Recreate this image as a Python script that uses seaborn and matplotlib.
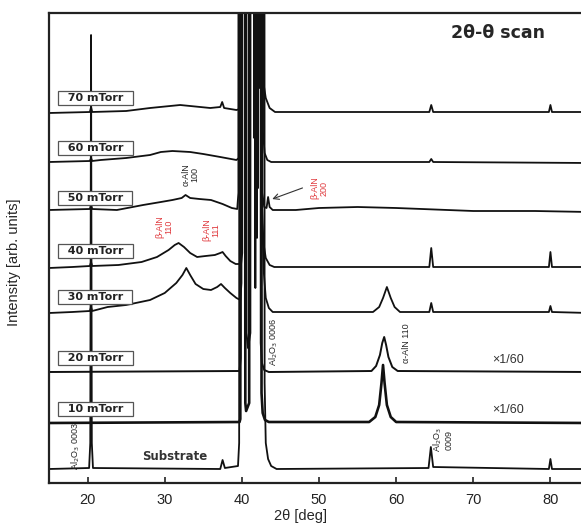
import matplotlib
matplotlib.use("Agg")
import matplotlib.pyplot as plt
import seaborn as sns

sns.set_style("white")
plt.rcParams["font.family"] = ["Liberation Sans", "DejaVu Sans"]

# 2theta positions (deg) and intensities (arb. units, already offset)
sub_x = [15, 20.2, 20.35, 20.45, 20.55, 20.7, 37.2, 37.5, 37.8, 39.5, 39.65, 39.7,
         42.9, 42.95, 43.1, 43.4, 43.8, 44.5, 64.2, 64.5, 64.8, 79.8, 80.0, 80.2, 85]
sub_y = [14, 15, 40, 448, 40, 15, 14, 23, 15, 17, 40, 1500,
         1500, 100, 40, 24, 17, 14, 15, 36, 16, 14, 24, 14, 14]

t10_x = [15, 39.7, 39.8, 39.85, 40.4, 40.45, 40.55, 40.95, 41.0, 42.5, 42.55, 42.7,
         43.0, 43.5, 56.5, 57.3, 57.8, 58.1, 58.3, 58.5, 58.8, 59.3, 60.0, 85]
t10_y = [60, 61, 64, 1500, 1500, 80, 72, 80, 1500, 1500, 90, 70,
         63, 61, 61, 66, 78, 100, 118, 100, 78, 66, 61, 60]

t20_x = [15, 39.7, 39.85, 39.9, 40.55, 40.6, 40.8, 41.1, 41.15, 42.4, 42.45, 42.6,
         42.9, 43.5, 56.8, 57.4, 57.9, 58.2, 58.45, 58.7, 59.0, 59.5, 60.2, 85]
t20_y = [111, 112, 125, 1500, 1500, 150, 135, 150, 1500, 1500, 140, 120,
         113, 111, 112, 117, 128, 140, 146, 138, 126, 116, 112, 111]

t30_x = [15, 18, 20.3, 20.45, 20.6, 22.6, 25, 28.1, 30, 31.5, 32.3, 32.8, 33.3, 34,
         35, 36, 36.8, 37.3, 37.8, 38.5, 39.3, 39.8, 39.95, 40.0, 41.73, 41.75, 41.77,
         42.6, 42.65, 42.85, 43.1, 43.5, 44, 57, 57.8, 58.3, 58.8, 59.3, 59.8, 60.5,
         64.3, 64.55, 64.8, 79.8, 80.0, 80.2, 85]
t30_y = [170, 171, 172, 176, 172, 176, 178, 183, 190, 200, 208, 215, 208, 199,
         194, 193, 196, 199, 195, 190, 185, 183, 200, 1500, 1500, 195, 1500,
         1500, 260, 210, 185, 175, 171, 171, 176, 185, 196, 185, 176, 171,
         171, 180, 171, 171, 177, 171, 170]

t40_x = [15, 18, 20.3, 20.45, 20.6, 24, 27, 29, 30.5, 31.3, 31.8, 32.5, 33.3, 34.2,
         35.3, 36.5, 37.2, 37.5, 37.9, 38.5, 39.2, 39.9, 40.05, 40.1, 41.93, 41.95,
         41.97, 42.55, 42.6, 42.8, 43.1, 43.6, 44.2, 64.3, 64.55, 64.8, 79.8, 80.0,
         80.2, 85]
t40_y = [215, 216, 217, 221, 217, 218, 221, 226, 233, 238, 240, 236, 230, 226,
         227, 228, 230, 231, 227, 222, 219, 219, 230, 1500, 1500, 245,
         1500, 1500, 280, 240, 225, 218, 216, 216, 235, 216, 216, 231,
         216, 216]

t50_x = [15, 20.3, 20.45, 20.6, 23.8, 27.2, 29.5, 31, 32.2, 32.7, 33.3, 34.5, 36,
         37.5, 38.7, 39.4, 39.55, 39.6, 42.08, 42.1, 42.12, 42.6, 42.65, 42.9, 43.2,
         43.4, 43.6, 44, 47, 50, 55, 60, 70, 78, 85]
t50_y = [273, 274, 278, 274, 273, 278, 281, 283, 285, 288, 285, 284, 283,
         279, 275, 274, 290, 1500, 1500, 295, 1500, 1500, 290, 276, 275,
         286, 276, 273, 273, 275, 276, 275, 272, 272, 271]

t60_x = [15, 20.3, 20.45, 20.6, 21.7, 25, 28.1, 29.5, 31, 33.3, 35, 37.2, 39.3,
         39.6, 39.7, 41.58, 41.6, 41.62, 42.7, 42.75, 42.95, 43.3, 43.8, 64.3, 64.55,
         64.8, 85]
t60_y = [321, 322, 325, 322, 323, 325, 328, 331, 332, 331, 329, 326, 323,
         325, 1500, 1500, 345, 1500, 1500, 350, 330, 323, 321, 321, 324,
         321, 320]

t70_x = [15, 20.3, 20.45, 20.6, 25, 28.1, 32, 35.9, 37.2, 37.45, 37.7, 39.3, 39.7,
         39.8, 42.28, 42.3, 42.32, 42.75, 42.8, 43.1, 43.6, 44.3, 64.3, 64.55, 64.8,
         79.8, 80.0, 80.2, 85]
t70_y = [370, 371, 376, 371, 372, 375, 378, 375, 376, 381, 375, 373, 374,
         1500, 1500, 395, 1500, 1500, 400, 385, 375, 371, 371, 378, 371,
         371, 378, 371, 371]

traces = [(sub_x, sub_y, 1.3), (t10_x, t10_y, 1.9), (t20_x, t20_y, 1.4),
          (t30_x, t30_y, 1.3), (t40_x, t40_y, 1.3), (t50_x, t50_y, 1.3),
          (t60_x, t60_y, 1.3), (t70_x, t70_y, 1.3)]

labels = ["70 mTorr", "60 mTorr", "50 mTorr", "40 mTorr",
          "30 mTorr", "20 mTorr", "10 mTorr"]
label_y = [385, 335, 285, 232, 186, 125, 74]

fig = plt.figure(figsize=(5.81, 5.29), dpi=100)
ax = fig.add_axes([49 / 581, 46 / 529, 540 / 581, 470 / 529])

for xs, ys, lw in traces:
    sns.lineplot(x=xs, y=ys, ax=ax, color="#111111", lw=lw, sort=False,
                 estimator=None)

ax.set_xlim(15, 85)
ax.set_ylim(0, 470)
ax.set_xticks([20, 30, 40, 50, 60, 70, 80])
ax.set_yticks([])
ax.tick_params(axis="x", direction="in", length=4, width=1.2, pad=7,
               labelsize=10.5, colors="#222222", bottom=True)
for s in ax.spines.values():
    s.set_linewidth(1.6)
    s.set_color("#222222")

ax.set_xlabel("2θ [deg]", fontsize=10.5)
ax.xaxis.set_label_coords(0.465, -0.055)
ax.set_ylabel("Intensity [arb. units]", fontsize=10.5)
ax.yaxis.set_label_coords(-0.052, 0.47)

for lab, yy in zip(labels, label_y):
    ax.text(16.4, yy, "  " + lab + "  ", fontsize=8, fontweight="bold", ha="left",
            va="center", family=["DejaVu Sans"], color="#222222",
            bbox=dict(boxstyle="square,pad=0.15", fc="white", ec="#555555", lw=0.9))

ax.text(73.2, 450, "2θ-θ scan", fontsize=12.5, fontweight="bold", ha="center",
        va="center", family=["DejaVu Sans"])
ax.text(31.3, 27, "Substrate", fontsize=8.5, fontweight="bold", ha="center",
        va="center", color="#333333", family=["DejaVu Sans"])
ax.text(74.5, 123, "×1/60", fontsize=9, ha="center", va="center", color="#333333")
ax.text(74.5, 73, "×1/60", fontsize=9, ha="center", va="center", color="#333333")

red = "#e03a3e"
ax.text(33.3, 308, "α-AlN\n100", rotation=90, fontsize=6.5, ha="center",
        va="center", linespacing=1.0)
ax.text(30.0, 256, "β-AlN\n110", rotation=90, fontsize=6.5, ha="center",
        va="center", color=red, linespacing=1.0)
ax.text(36.1, 253, "β-AlN\n111", rotation=90, fontsize=6.5, ha="center",
        va="center", color=red, linespacing=1.0)
ax.text(50.1, 295, "β-AlN\n200", rotation=90, fontsize=6.5, ha="center",
        va="center", color=red, linespacing=1.0)
ax.annotate("", xy=(43.6, 283), xytext=(48.2, 296),
            arrowprops=dict(arrowstyle="->", color="#333333", lw=0.8))
ax.text(44.1, 141, "Al$_2$O$_3$ 0006", rotation=90, fontsize=6.5, ha="center",
        va="center")
ax.text(61.4, 140, "α-AlN 110", rotation=90, fontsize=6.5, ha="center",
        va="center")
ax.text(66.0, 43, "Al$_2$O$_3$\n0009", rotation=90, fontsize=6.5, ha="center",
        va="center", linespacing=1.0)
ax.text(18.5, 37, "Al$_2$O$_3$ 0003", rotation=90, fontsize=6.5, ha="center",
        va="center")

fig.savefig("out.png", dpi=100)
